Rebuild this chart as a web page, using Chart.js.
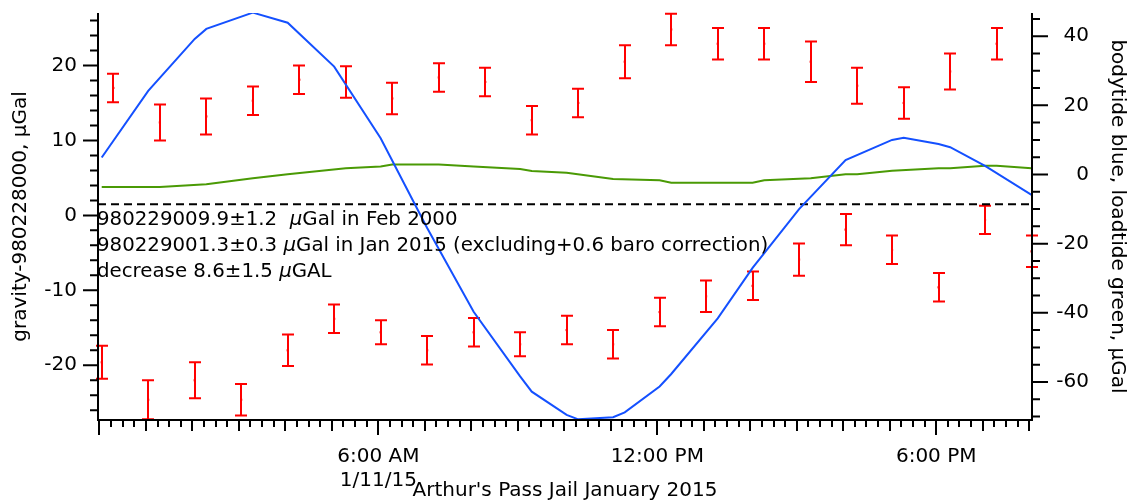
<!DOCTYPE html>
<html>
<head>
<meta charset="utf-8">
<title>Arthur's Pass Jail January 2015</title>
<script src="https://cdn.jsdelivr.net/npm/chart.js@4.4.1/dist/chart.umd.min.js"></script>
<style>
  html, body { margin: 0; padding: 0; background: #fff; }
  canvas { display: block; }
</style>
</head>
<body>
<canvas id="chart" width="1133" height="503"></canvas>
<script>
// hours after midnight, 11 Jan 2015
const upperTimes = [0.3, 1.3, 2.3, 3.3, 4.3, 5.3, 6.3, 7.3, 8.3, 9.3, 10.3, 11.3, 12.3, 13.3, 14.3, 15.3, 16.3, 17.3, 18.3, 19.3];
const upperGravity = [17.0, 12.4, 13.2, 15.3, 18.1, 17.8, 15.6, 18.4, 17.8, 12.7, 15.0, 20.5, 24.8, 22.9, 22.9, 20.5, 17.3, 15.0, 19.2, 22.9];
const upperError = [1.9, 2.4, 2.4, 1.9, 1.9, 2.1, 2.1, 1.9, 1.9, 1.9, 1.9, 2.2, 2.1, 2.1, 2.1, 2.7, 2.4, 2.1, 2.4, 2.1];

const lowerTimes = [0.05, 1.05, 2.05, 3.05, 4.05, 5.05, 6.05, 7.05, 8.05, 9.05, 10.05, 11.05, 12.05, 13.05, 14.05, 15.05, 16.05, 17.05, 18.05, 19.05, 20.05];
const lowerGravity = [-19.6, -24.6, -22.0, -24.6, -18.0, -13.8, -15.6, -18.0, -15.6, -17.2, -15.3, -17.2, -12.9, -10.8, -9.4, -5.9, -1.9, -4.6, -9.6, -0.6, -4.8];
const lowerError = [2.2, 2.6, 2.4, 2.1, 2.1, 1.9, 1.6, 1.9, 1.9, 1.6, 1.9, 1.9, 1.9, 2.1, 1.9, 2.15, 2.1, 1.9, 1.9, 1.9, 2.1];

// bodytide (blue) and loadtide (green), right axis
const bodyTimes = [0.05, 1.05, 2.05, 2.3, 3.3, 4.05, 5.05, 6.05, 7.05, 8.05, 9.05, 9.3, 10.05, 10.3, 11.05, 11.3, 12.05, 12.3, 13.3, 14.05, 15.05, 16.05, 17.05, 17.3, 18.05, 18.3, 19.05, 20.05];
const bodyTide = [4.9, 24.2, 39.2, 42.1, 46.8, 43.9, 31.2, 10.5, -15.5, -39.7, -58.4, -62.8, -69.5, -70.8, -70.2, -68.8, -61.3, -57.7, -41.6, -27.0, -10.0, 4.2, 10.0, 10.6, 8.8, 7.9, 2.5, -5.9];
const loadTimes = [0.05, 1.3, 2.3, 3.3, 4.05, 5.3, 6.05, 6.3, 7.3, 8.05, 9.05, 9.3, 10.05, 11.05, 12.05, 12.3, 13.3, 14.05, 14.3, 15.3, 16.05, 16.3, 17.05, 18.05, 18.3, 19.05, 19.3, 20.05];
const loadTide = [-3.6, -3.6, -2.8, -1.1, 0.1, 1.8, 2.3, 2.9, 2.9, 2.3, 1.6, 1.0, 0.5, -1.3, -1.7, -2.4, -2.4, -2.4, -1.7, -1.1, 0.1, 0.1, 1.1, 1.8, 1.8, 2.5, 2.5, 1.8];

const decreaseLevel = -8.6; // dashed line, right axis

const xTickHours = [6, 12, 18];
const xTickLabels = [['6:00 AM', '1/11/15'], '12:00 PM', '6:00 PM'];
const gravityTicks = [-20, -10, 0, 10, 20];
const tideTicks = [-60, -40, -20, 0, 20, 40];

const annotationLines = [
  [['980229009.9±1.2  ', false], ['μ', true], ['Gal in Feb 2000', false]],
  [['980229001.3±0.3 ', false], ['μ', true], ['Gal in Jan 2015 (excluding+0.6 baro correction)', false]],
  [['decrease 8.6±1.5 ', false], ['μ', true], ['GAL', false]]
];

const FONT = "'DejaVu Sans', 'Lucida Grande', sans-serif";
const RED = '#ff0000';

const toPoints = (xs, ys) => xs.map((x, i) => ({ x: x, y: ys[i] }));

// fixed box sizes so the plot area lands where the original one is
const fixBox = (w, h) => (s) => {
  if (w !== null) s.width = w;
  if (h !== null) s.height = h;
  s.paddingTop = 0; s.paddingBottom = 0;
  s.paddingLeft = 0; s.paddingRight = 0;
};

const framePlugin = {
  id: 'frame',
  beforeDatasetsDraw(chart) {
    // error bars
    const { ctx } = chart;
    const xs = chart.scales.x, ys = chart.scales.y;
    ctx.save();
    ctx.strokeStyle = RED;
    ctx.lineWidth = 2;
    const bars = (times, vals, errs) => {
      times.forEach((t, i) => {
        const px = Math.round(xs.getPixelForValue(t));
        const top = ys.getPixelForValue(vals[i] + errs[i]);
        const bot = ys.getPixelForValue(vals[i] - errs[i]);
        ctx.beginPath();
        ctx.moveTo(px, top); ctx.lineTo(px, bot);
        ctx.moveTo(px - 6, top); ctx.lineTo(px + 6, top);
        ctx.moveTo(px - 6, bot); ctx.lineTo(px + 6, bot);
        ctx.stroke();
      });
    };
    bars(upperTimes, upperGravity, upperError);
    bars(lowerTimes, lowerGravity, lowerError);
    ctx.restore();
  },
  afterDraw(chart) {
    const { ctx, chartArea: a } = chart;
    const xs = chart.scales.x, ys = chart.scales.y, y2 = chart.scales.y2;
    ctx.save();
    ctx.strokeStyle = '#000';
    ctx.lineWidth = 2;
    ctx.beginPath();
    // axis lines
    ctx.moveTo(a.left, a.top); ctx.lineTo(a.left, a.bottom + 1);
    ctx.moveTo(a.right, a.top); ctx.lineTo(a.right, a.bottom + 1);
    ctx.moveTo(a.left - 1, a.bottom); ctx.lineTo(a.right + 1, a.bottom);
    // left ticks every 2, long every 10
    for (let v = -26; v <= 26; v += 2) {
      const p = ys.getPixelForValue(v);
      const len = v % 10 === 0 ? 15 : 8;
      ctx.moveTo(a.left, p); ctx.lineTo(a.left - len, p);
    }
    // right ticks every 5, long every 20
    for (let v = -70; v <= 45; v += 5) {
      const p = y2.getPixelForValue(v);
      const len = v % 20 === 0 ? 16 : 8;
      ctx.moveTo(a.right, p); ctx.lineTo(a.right + len, p);
    }
    // bottom ticks every 15 min
    for (let i = 0; i <= 80; i++) {
      const p = Math.round(xs.getPixelForValue(i / 4));
      const len = i % 24 === 0 ? 15 : (i % 4 === 0 ? 11 : 7);
      ctx.moveTo(p, a.bottom); ctx.lineTo(p, a.bottom + len);
    }
    ctx.stroke();

    ctx.fillStyle = '#000';
    // right axis labels, right-aligned like the original
    ctx.font = '20px ' + FONT;
    ctx.textAlign = 'right';
    ctx.textBaseline = 'middle';
    tideTicks.forEach(v => {
      ctx.fillText(String(v), a.right + 57, y2.getPixelForValue(v));
    });

    // annotation text
    ctx.textAlign = 'left';
    ctx.textBaseline = 'alphabetic';
    const baselines = [225, 251, 277];
    annotationLines.forEach((line, li) => {
      let x = a.left - 1;
      line.forEach(([txt, italic]) => {
        ctx.font = (italic ? 'italic ' : '') + '19.8px ' + FONT;
        ctx.fillText(txt, x, baselines[li]);
        x += ctx.measureText(txt).width;
      });
    });
    ctx.restore();
  }
};

const titleFont = { family: FONT, size: 20 };
const tickFont = { family: FONT, size: 20 };

new Chart(document.getElementById('chart'), {
  type: 'scatter',
  data: {
    datasets: [
      {
        label: 'gravity (set 1)',
        data: toPoints(upperTimes, upperGravity),
        yAxisID: 'y',
        pointStyle: 'rect',
        pointRadius: 1.5,
        pointBackgroundColor: RED,
        pointBorderWidth: 0,
        order: 1
      },
      {
        label: 'gravity (set 2)',
        data: toPoints(lowerTimes, lowerGravity),
        yAxisID: 'y',
        pointStyle: 'rect',
        pointRadius: 1.5,
        pointBackgroundColor: RED,
        pointBorderWidth: 0,
        order: 1
      },
      {
        type: 'line',
        label: 'bodytide',
        data: toPoints(bodyTimes, bodyTide),
        yAxisID: 'y2',
        borderColor: '#1450ff',
        borderWidth: 2,
        pointRadius: 0,
        tension: 0,
        order: 2
      },
      {
        type: 'line',
        label: 'loadtide',
        data: toPoints(loadTimes, loadTide),
        yAxisID: 'y2',
        borderColor: '#4a9a05',
        borderWidth: 2,
        pointRadius: 0,
        tension: 0,
        order: 3
      },
      {
        type: 'line',
        label: 'decrease',
        data: [{ x: -0.03, y: decreaseLevel }, { x: 20.06, y: decreaseLevel }],
        yAxisID: 'y2',
        borderColor: '#000',
        borderWidth: 2,
        borderDash: [8, 5],
        pointRadius: 0,
        order: 4
      }
    ]
  },
  options: {
    responsive: false,
    animation: false,
    devicePixelRatio: 1,
    layout: { padding: { top: 13, left: 0, right: 0, bottom: 0 } },
    plugins: { legend: { display: false }, tooltip: { enabled: false } },
    scales: {
      x: {
        type: 'linear',
        position: 'bottom',
        min: -0.03,
        max: 20.06,
        grid: { display: false, drawTicks: false },
        border: { display: false },
        afterBuildTicks: (s) => { s.ticks = xTickHours.map(v => ({ value: v })); },
        afterFit: fixBox(null, 83),
        ticks: {
          autoSkip: false,
          maxRotation: 0,
          padding: 24.5,
          color: '#000',
          font: tickFont,
          callback: (v) => xTickLabels[xTickHours.indexOf(v)]
        },
        title: {
          display: true,
          text: "Arthur's Pass Jail January 2015",
          color: '#000',
          font: titleFont,
          padding: { top: 0, bottom: 0 }
        }
      },
      y: {
        position: 'left',
        min: -27.3,
        max: 27.0,
        grid: { display: false, drawTicks: false },
        border: { display: false },
        afterBuildTicks: (s) => { s.ticks = gravityTicks.map(v => ({ value: v })); },
        afterFit: fixBox(98, null),
        ticks: { padding: 21, color: '#000', font: tickFont },
        title: {
          display: true,
          text: 'gravity-980228000, μGal',
          color: '#000',
          font: titleFont,
          padding: { top: 9, bottom: 0 }
        }
      },
      y2: {
        position: 'right',
        min: -71.0,
        max: 46.7,
        grid: { display: false, drawTicks: false },
        border: { display: false },
        afterBuildTicks: (s) => { s.ticks = tideTicks.map(v => ({ value: v })); },
        afterFit: fixBox(101, null),
        ticks: { display: false },
        title: {
          display: true,
          text: 'bodytide blue, loadtide green, μGal',
          color: '#000',
          font: titleFont,
          padding: { top: 4, bottom: 0 }
        }
      }
    }
  },
  plugins: [framePlugin]
});
</script>
</body>
</html>
